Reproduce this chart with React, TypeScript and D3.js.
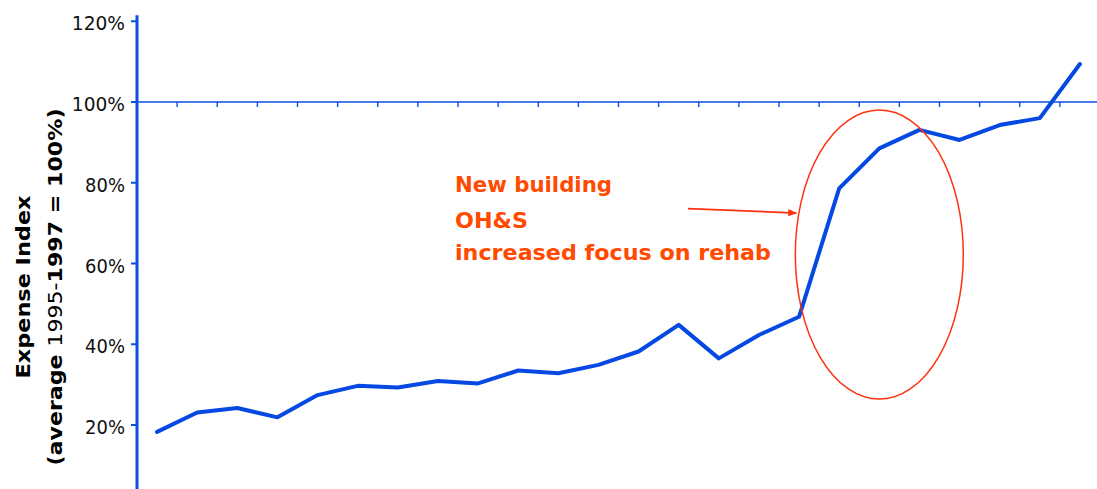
import React from "react";
import * as d3 from "d3";

const years: number[] = [
  1974, 1975, 1976, 1977, 1978, 1979, 1980, 1981, 1982, 1983, 1984, 1985,
  1986, 1987, 1988, 1989, 1990, 1991, 1992, 1993, 1994, 1995, 1996, 1997,
];
const expenseIndex: number[] = [
  18.3, 23.1, 24.2, 21.9, 27.4, 29.7, 29.3, 30.9, 30.3, 33.5, 32.8, 34.9,
  38.2, 44.8, 36.5, 42.3, 46.8, 78.6, 88.5, 93.1, 90.6, 94.3, 96.0, 109.4,
];
const yTicks: number[] = [20, 40, 60, 80, 100, 120];
const yTickLabels: string[] = ["20%", "40%", "60%", "80%", "100%", "120%"];
const annotationLines: string[] = ["New building", "OH&S", "increased focus on rehab"];
const yTitle: string = "Expense Index";
const ySubtitleParts: { t: string; bold: boolean }[] = [
  { t: "(average ", bold: true },
  { t: "1995-", bold: false },
  { t: "1997 = 100%)", bold: true },
];

const W = 1097;
const H = 489;
const BLUE = "#0a4fe0";
const LINE_BLUE = "#0549e2";
const ORANGE = "#ff4a00";
const RED = "#ff3210";

export default function App() {
  const x = d3
    .scaleBand<number>()
    .domain(years)
    .range([137, 1100])
    .paddingInner(0)
    .paddingOuter(0);
  const y = d3.scaleLinear().domain([0, 120]).range([505.75, 21.25]);

  const line = d3
    .line<number>()
    .x((_, i) => (x(years[i]) as number) + x.bandwidth() / 2)
    .y((d) => y(d));

  const refY = y(100);
  const axisX = 137;

  // annotation anchored to data
  const ellCx = (x(1992) as number) + x.bandwidth() / 2;
  const ellCy = y(62.2);
  const ellRx = 84;
  const ellRy = 144.5;

  const arrowStartX = 688;
  const arrowStartY = y(73.6);
  const arrowEndX = ellCx - ellRx + 1;
  const arrowEndY = y(72.5);

  return (
    <svg
      width={W}
      height={H}
      style={{ position: "absolute", left: 0, top: 0, background: "#fff" }}
    >
      <defs>
        <marker
          id="arr"
          viewBox="0 0 10 10"
          refX="9"
          refY="5"
          markerWidth="5"
          markerHeight="5"
          orient="auto"
        >
          <path d="M0,1 L10,5 L0,9 Z" fill={RED} />
        </marker>
      </defs>

      {/* reference line at 100% with category ticks */}
      <line x1={axisX} x2={W} y1={refY} y2={refY} stroke={BLUE} strokeWidth={1.6} />
      {years.slice(1).map((yr) => (
        <line
          key={yr}
          x1={x(yr) as number}
          x2={x(yr) as number}
          y1={refY}
          y2={refY + 5}
          stroke={BLUE}
          strokeWidth={1.4}
        />
      ))}

      {/* y axis */}
      <line x1={axisX} x2={axisX} y1={y(120) - 6} y2={H} stroke={BLUE} strokeWidth={3} />
      {yTicks.map((t, i) => (
        <g key={t}>
          <line x1={axisX - 6} x2={axisX} y1={y(t)} y2={y(t)} stroke={BLUE} strokeWidth={2} />
          <text
            x={125}
            y={y(t) + 9}
            textAnchor="end"
            fontFamily="DejaVu Sans, sans-serif"
            fontSize={19}
            fill="#111"
            textLength={yTickLabels[i].length * 13.3}
            lengthAdjust="spacingAndGlyphs"
          >
            {yTickLabels[i]}
          </text>
        </g>
      ))}

      {/* y axis title */}
      <text
        transform={`translate(30,287) rotate(-90)`}
        textAnchor="middle"
        fontFamily="DejaVu Sans, sans-serif"
        fontWeight="bold"
        fontSize={19}
        fill="#000"
        textLength={183}
        lengthAdjust="spacingAndGlyphs"
      >
        {yTitle}
      </text>
      <text
        transform={`translate(62,287) rotate(-90)`}
        textAnchor="middle"
        fontFamily="DejaVu Sans, sans-serif"
        fontSize={19}
        fill="#000"
        textLength={357}
        lengthAdjust="spacingAndGlyphs"
      >
        {ySubtitleParts.map((p, i) => (
          <tspan key={i} fontWeight={p.bold ? "bold" : "normal"}>
            {p.t}
          </tspan>
        ))}
      </text>

      {/* data line */}
      <path
        d={line(expenseIndex) || ""}
        fill="none"
        stroke={LINE_BLUE}
        strokeWidth={4}
        strokeLinejoin="round"
        strokeLinecap="round"
      />

      {/* annotation */}
      <ellipse cx={ellCx} cy={ellCy} rx={ellRx} ry={ellRy} fill="none" stroke={RED} strokeWidth={1.5} />
      <line
        x1={arrowStartX}
        y1={arrowStartY}
        x2={arrowEndX}
        y2={arrowEndY}
        stroke={RED}
        strokeWidth={1.8}
        markerEnd="url(#arr)"
      />
      {annotationLines.map((l, i) => (
        <text
          key={l}
          x={455}
          y={[192, 228, 260][i]}
          fontFamily="DejaVu Sans, sans-serif"
          fontWeight="bold"
          fontSize={21}
          fill={ORANGE}
          textLength={[157, 73, 316][i]}
          lengthAdjust="spacingAndGlyphs"
        >
          {l}
        </text>
      ))}
    </svg>
  );
}
